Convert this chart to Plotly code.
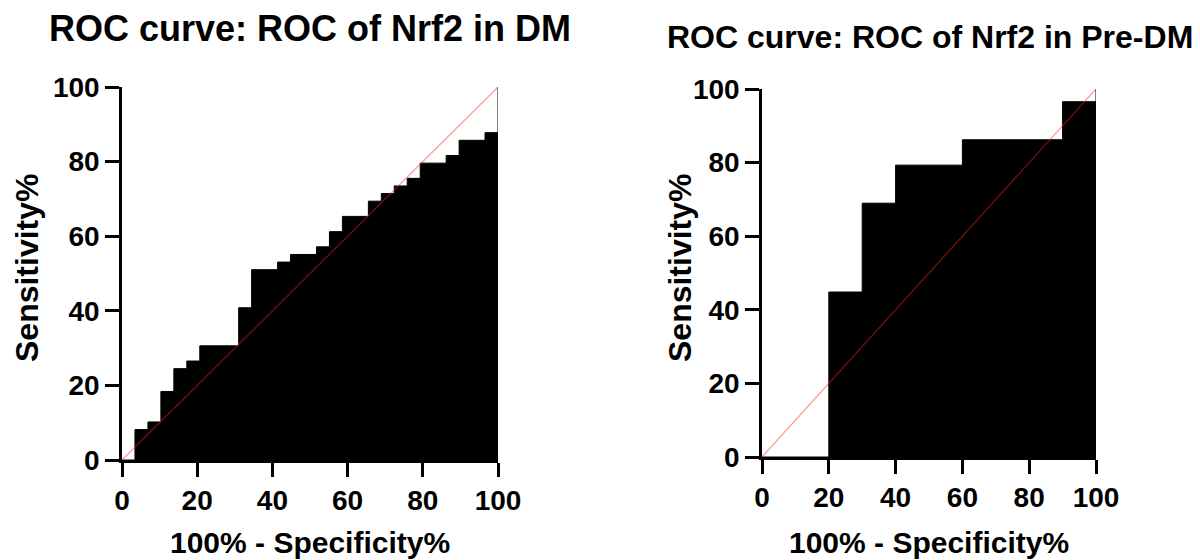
import plotly.graph_objects as go

# ---- data ----
dm_fpr = [0, 3.45, 6.9, 10.34, 13.79, 17.24, 20.69, 31.03, 34.48, 41.38, 44.83, 51.72,
          55.17, 58.62, 65.52, 68.97, 72.41, 75.86, 79.31, 86.21, 89.66, 96.55, 100]
dm_tpr = [0, 8.16, 10.2, 18.37, 24.49, 26.53, 30.61, 40.82, 51.02, 53.06, 55.1, 57.14,
          61.22, 65.31, 69.39, 71.43, 73.47, 75.51, 79.59, 81.63, 85.71, 87.76, 100]
pre_fpr = [0, 20, 30, 40, 60, 90, 100]
pre_tpr = [0, 44.83, 68.97, 79.31, 86.21, 96.55, 100]
ref_line = [0, 100]
ticks = [0, 20, 40, 60, 80, 100]
titles = ["ROC curve: ROC of Nrf2 in DM", "ROC curve: ROC of Nrf2 in Pre-DM"]
x_title = "100% - Specificity%"
y_title = "Sensitivity%"

W, H = 1200, 560
FONT = "Arial"

fig = go.Figure()

panels = [
    (dm_fpr, dm_tpr, "x", "y"),
    (pre_fpr, pre_tpr, "x2", "y2"),
]
for fx, fy, xa, ya in panels:
    fig.add_trace(go.Scatter(x=fx, y=fy, mode="lines", line=dict(shape="hv", color="black", width=1),
                             fill="tozeroy", fillcolor="black", xaxis=xa, yaxis=ya,
                             showlegend=False, hoverinfo="skip"))
    fig.add_trace(go.Scatter(x=ref_line, y=ref_line, mode="lines",
                             line=dict(color="rgba(255,40,20,0.45)", width=1.3),
                             xaxis=xa, yaxis=ya, showlegend=False, hoverinfo="skip"))

def px_x(p):
    return p / W

def px_y(p):
    return 1 - p / H

axis_common = dict(range=[0, 100], tickvals=ticks, showline=True, linecolor="black", linewidth=2.5,
                   ticks="outside", ticklen=14, tickwidth=2.5, tickcolor="black", showgrid=False,
                   zeroline=False, automargin=False,
                   tickfont=dict(family=FONT, size=28, color="black", weight="bold"),
                   fixedrange=True)

boxes = [
    (122, 498, 87, 460),
    (762, 1096, 89, 457),
]

fig.update_layout(
    template="none",
    width=W, height=H, margin=dict(l=0, r=0, t=0, b=0, autoexpand=False),
    paper_bgcolor="white", plot_bgcolor="white",
    xaxis=dict(domain=[px_x(boxes[0][0]), px_x(boxes[0][1])], anchor="y", **axis_common),
    yaxis=dict(domain=[px_y(boxes[0][3]), px_y(boxes[0][2])], anchor="x", **axis_common),
    xaxis2=dict(domain=[px_x(boxes[1][0]), px_x(boxes[1][1])], anchor="y2", **axis_common),
    yaxis2=dict(domain=[px_y(boxes[1][3]), px_y(boxes[1][2])], anchor="x2", **axis_common),
)

ann = []
# titles
ann.append(dict(text=titles[0], x=px_x(310), y=px_y(28), xref="paper", yref="paper",
                showarrow=False, xanchor="center", yanchor="middle",
                font=dict(family=FONT, size=36, color="black", weight="bold")))
ann.append(dict(text=titles[1], x=px_x(930), y=px_y(37), xref="paper", yref="paper",
                showarrow=False, xanchor="center", yanchor="middle",
                font=dict(family=FONT, size=32, color="black", weight="bold")))
# axis titles
for cx in [310, 929]:
    ann.append(dict(text=x_title, x=px_x(cx), y=0, xref="paper", yref="paper",
                    showarrow=False, xanchor="center", yanchor="bottom", borderpad=0,
                    font=dict(family=FONT, size=30, color="black", weight="bold")))
for cx in [27, 680]:
    ann.append(dict(text=y_title, x=px_x(cx), y=px_y(268), xref="paper", yref="paper", textangle=-90,
                    showarrow=False, xanchor="center", yanchor="middle",
                    font=dict(family=FONT, size=32, color="black", weight="bold")))
fig.update_layout(annotations=ann)

fig.write_html("out.html")
